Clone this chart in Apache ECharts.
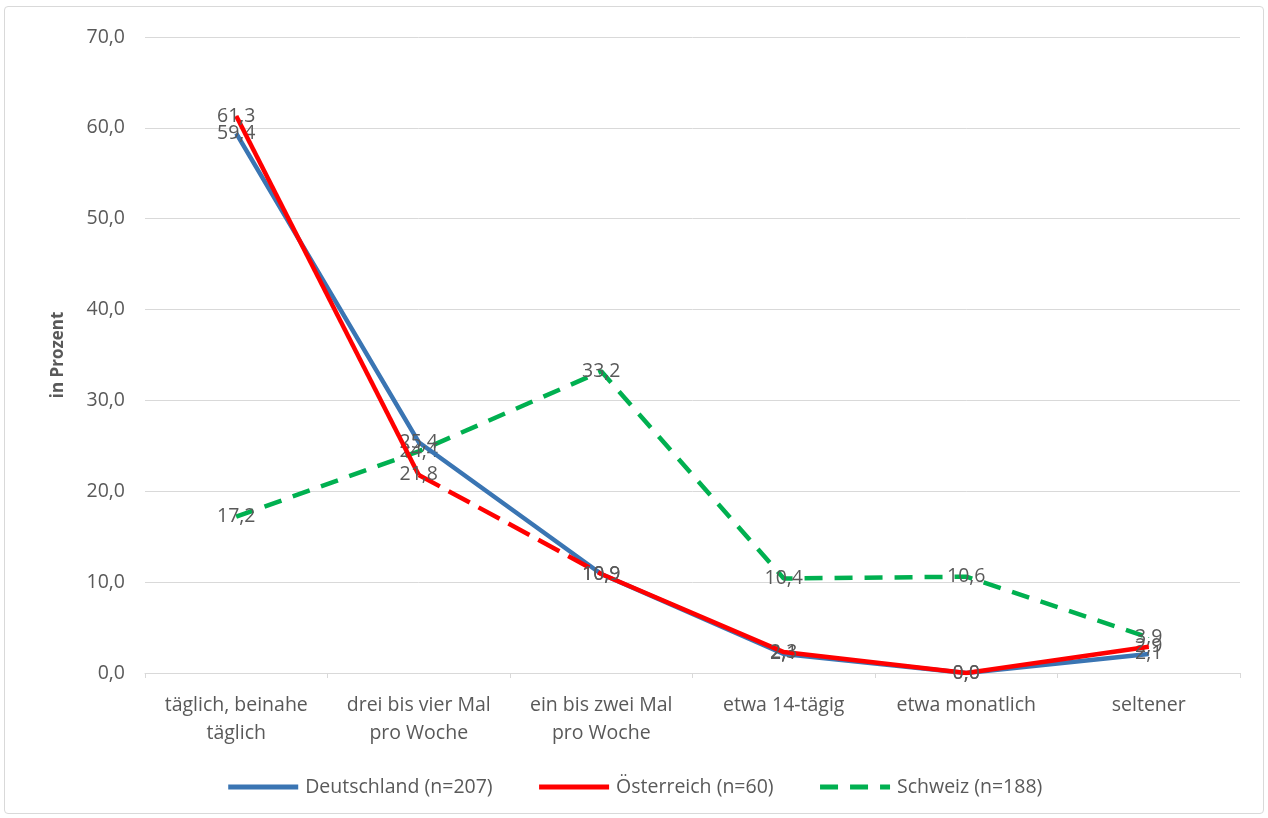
<!DOCTYPE html>
<html><head><meta charset="utf-8">
<script src="https://cdn.jsdelivr.net/npm/echarts@6/dist/echarts.min.js"></script>
<style>html,body{margin:0;padding:0;background:#fff}
#frame{position:absolute;left:4px;top:6px;width:1258px;height:806px;border:1px solid #d9d9d9;border-radius:4px}
#c{position:absolute;left:0;top:0;width:1268px;height:818px}</style>
</head><body><div id="frame"></div><div id="c"></div>
<script>
const categories = ['täglich, beinahe\ntäglich','drei bis vier Mal\npro Woche','ein bis zwei Mal\npro Woche','etwa 14-tägig','etwa monatlich','seltener'];
const deutschland = [59.4, 25.4, 10.9, 2.1, 0.0, 2.1];
const oesterreich = [61.3, 21.8, 10.9, 2.3, 0.0, 2.9];
const schweiz = [17.2, 24.4, 33.2, 10.4, 10.6, 3.9];
const yTicks = {min: 0, max: 70, interval: 10};
const names = ['Deutschland (n=207)', 'Österreich (n=60)', 'Schweiz (n=188)'];

const font = 'Open Sans';
const txt = '#595959';
const fs = 19.5;
const lbl = {show: true, position: 'inside', color: txt, fontFamily: font, fontSize: fs,
  formatter: p => p.value == null ? '' : p.value.toFixed(1).replace('.', ',')};

// Österreich split: solid parts and dashed segment between index 1 and 2
const oSolidA = oesterreich.map((v, i) => i <= 1 ? v : null);
const oSolidB = oesterreich.map((v, i) => i >= 2 ? v : null);
const oDashed = oesterreich.map((v, i) => (i === 1 || i === 2) ? v : null);

const sym = {symbol: 'circle', symbolSize: 1, showSymbol: true};

const chart = echarts.init(document.getElementById('c'));
chart.setOption({
  animation: false,
  textStyle: {fontFamily: font},
  grid: {left: 145, right: 28, top: 37, bottom: 145},
  legend: {
    data: names, top: 772, left: 'center', itemWidth: 70, itemHeight: 10, itemGap: 44,
    itemStyle: {opacity: 0}, lineStyle: {width: 5},
    textStyle: {color: txt, fontSize: fs, fontFamily: font, padding: [0, 0, 0, 2]}
  },
  xAxis: {
    type: 'category', data: categories, boundaryGap: true,
    axisLine: {lineStyle: {color: '#d9d9d9', width: 1}},
    axisTick: {show: true, length: 5, lineStyle: {color: '#d9d9d9'}},
    axisLabel: {color: txt, fontSize: fs, fontFamily: font, lineHeight: 28, margin: 18, interval: 0}
  },
  yAxis: {
    type: 'value', min: yTicks.min, max: yTicks.max, interval: yTicks.interval,
    name: 'in Prozent', nameLocation: 'middle', nameGap: 78, nameRotate: 90,
    nameTextStyle: {color: txt, fontSize: 17, fontWeight: 'bold', fontFamily: font},
    axisLine: {show: false}, axisTick: {show: false},
    splitLine: {lineStyle: {color: '#d9d9d9'}},
    axisLabel: {color: txt, fontSize: fs, fontFamily: font, margin: 20,
      formatter: v => v.toFixed(1).replace('.', ',')}
  },
  series: [
    {name: names[0], type: 'line', data: deutschland, ...sym, z: 2,
      lineStyle: {color: '#3a75b3', width: 4.5}, itemStyle: {color: '#3a75b3'}, label: lbl},
    {name: names[1], type: 'line', data: oSolidA, ...sym, z: 3,
      lineStyle: {color: '#ff0000', width: 4.5}, itemStyle: {color: '#ff0000'}, label: lbl},
    {name: names[1], type: 'line', data: oSolidB, ...sym, z: 3,
      lineStyle: {color: '#ff0000', width: 4.5}, itemStyle: {color: '#ff0000'}, label: lbl},
    {name: names[1], type: 'line', data: oDashed, symbol: 'none', z: 3,
      lineStyle: {color: '#ff0000', width: 4.5, type: [24, 10]}, itemStyle: {color: '#ff0000'}, label: {show: false}},
    {name: names[2], type: 'line', data: schweiz, ...sym, z: 1,
      lineStyle: {color: '#00b050', width: 4.5, type: [18, 12]}, itemStyle: {color: '#00b050'}, label: lbl}
  ]
});
</script></body></html>
